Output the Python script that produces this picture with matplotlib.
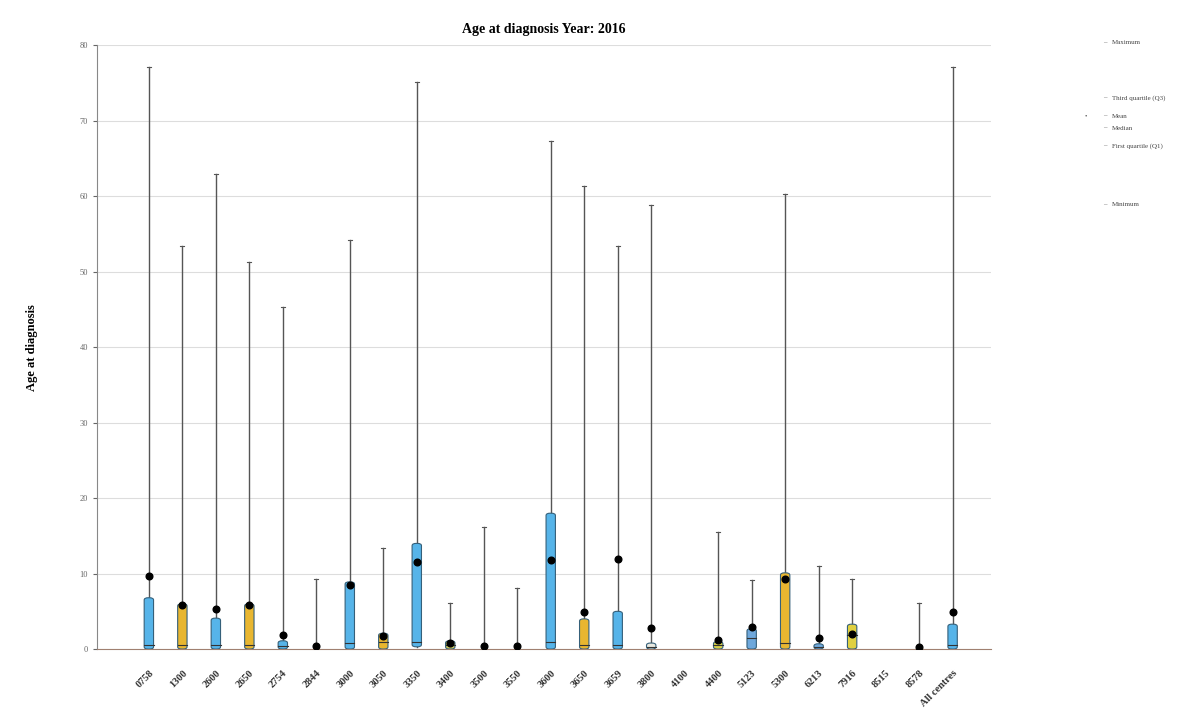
import matplotlib.pyplot as plt
from matplotlib.patches import FancyBboxPatch

centres = ["0758", "1300", "2600", "2650", "2754", "2844", "3000", "3050", "3350",
           "3400", "3500", "3550", "3600", "3650", "3659", "3800", "4100", "4400",
           "5123", "5300", "6213", "7916", "8515", "8578", "All centres"]
maximum = [77.1, 53.4, 63.0, 51.3, 45.3, 9.3, 54.2, 13.4, 75.1,
           6.1, 16.2, 8.1, 67.3, 61.3, 53.4, 58.8, None, 15.5,
           9.1, 60.3, 11.0, 9.3, None, 6.1, 77.1]
q3 = [6.8, 6.0, 4.1, 6.0, 1.1, 0.3, 8.9, 2.1, 14.0,
      1.1, 0.3, 0.3, 18.0, 4.0, 5.0, 0.8, None, 1.0,
      2.7, 10.1, 0.7, 3.3, None, 0.2, 3.3]
median = [0.5, 0.5, 0.5, 0.5, 0.4, 0.1, 0.8, 0.9, 1.0,
          0.5, 0.1, 0.1, 1.0, 0.5, 0.6, 0.3, None, 0.5,
          1.5, 0.8, 0.3, 1.9, None, 0.1, 0.5]
q1 = [0.0, 0.0, 0.0, 0.0, 0.0, 0.0, 0.0, 0.0, 0.3,
      0.0, 0.0, 0.0, 0.0, 0.0, 0.0, 0.0, None, 0.0,
      0.0, 0.0, 0.0, 0.0, None, 0.0, 0.0]
mean = [9.7, 5.8, 5.3, 5.8, 1.9, 0.4, 8.5, 1.7, 11.5,
        0.8, 0.4, 0.4, 11.8, 4.9, 11.9, 2.8, None, 1.2,
        2.9, 9.3, 1.5, 2.0, None, 0.3, 4.9]
colours = ["#56B4E9", "#E8B630", "#56B4E9", "#E8B630", "#56B4E9", "#E8B630", "#56B4E9",
           "#E8B630", "#56B4E9", "#C9C65A", "#56B4E9", "#E8B630", "#56B4E9", "#E8B630",
           "#56B4E9", "#E8E8E0", "#56B4E9", "#D8D048", "#6FA8DC", "#E8B630", "#6FA8DC",
           "#E0D040", "#56B4E9", "#E8B630", "#56B4E9"]

plt.rcParams['font.family'] = ['Liberation Serif', 'DejaVu Serif']

fig = plt.figure(figsize=(11.97, 7.18), dpi=100)
ax = fig.add_axes([0.081, 0.096, 0.747, 0.841])

w = 0.28
for i, name in enumerate(centres):
    if maximum[i] is None:
        continue
    ax.plot([i, i], [q1[i], maximum[i]], color="#555555", lw=1.0, zorder=2)
    ax.plot([i - 0.06, i + 0.06], [maximum[i], maximum[i]], color="#555555", lw=0.8, zorder=2)
    h = q3[i] - q1[i]
    if h > 0.4:
        box = FancyBboxPatch((i - w / 2, q1[i]), w, h,
                             boxstyle="round,pad=0,rounding_size=0.12",
                             mutation_aspect=2.5, facecolor=colours[i],
                             edgecolor="#35607a", lw=0.8, zorder=3)
        ax.add_patch(box)
        ax.plot([i - w / 2, i + w / 2], [median[i], median[i]], color="#333333", lw=0.8, zorder=4)
    ax.plot(i, mean[i], "o", color="black", ms=4.8, zorder=5)

ax.set_xlim(-1.55, 25.15)
ax.set_ylim(0, 80)
ax.set_yticks(range(0, 81, 10))
ax.tick_params(axis="y", labelsize=6, colors="#666666", length=3)
ax.set_xticks(range(len(centres)))
ax.set_xticklabels(centres, rotation=45, ha="right", rotation_mode="anchor",
                   fontsize=7.5, fontweight="bold", color="#333333")
ax.tick_params(axis="x", length=0, pad=14)
ax.yaxis.grid(True, color="#dddddd", lw=0.8)
ax.set_axisbelow(True)
for s in ["top", "right"]:
    ax.spines[s].set_visible(False)
ax.spines["left"].set_color("#888888")
ax.spines["bottom"].set_color("#a08070")

ax.set_ylabel("Age at diagnosis", fontsize=9, fontweight="bold", labelpad=30)
ax.set_title("Age at diagnosis Year: 2016", fontsize=10, fontweight="bold", pad=9)

# key explaining the symbols
legend_items = [("Maximum", 43), ("Third quartile (Q3)", 98), ("Mean", 116),
                ("Median", 128), ("First quartile (Q1)", 146), ("Minimum", 205)]
for label, ypix in legend_items:
    yf = 1 - ypix / 718
    fig.text(1103 / 1197, yf, "\u2013", fontsize=5, va="center", color="#555555")
    fig.text(1112 / 1197, yf, label, fontsize=5, va="center", color="#444444")
fig.text(1085 / 1197, 1 - 116 / 718, "\u2022", fontsize=5, va="center", color="#555555")

fig.savefig("out.png", dpi=100)
